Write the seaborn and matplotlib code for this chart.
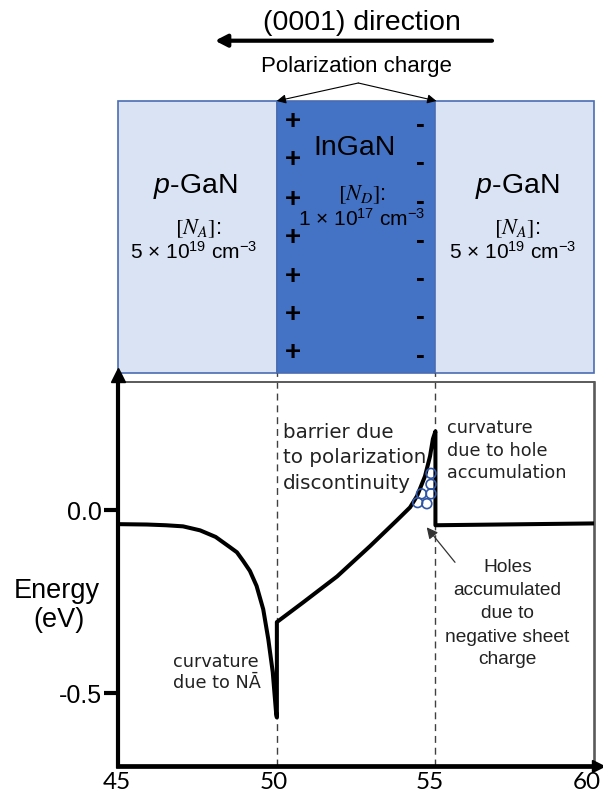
import matplotlib
matplotlib.use("Agg")
import matplotlib.pyplot as plt
import matplotlib.transforms as mtransforms
import pandas as pd
import seaborn as sns
from matplotlib.patches import FancyArrowPatch

# ---- band-edge profile across p-GaN / InGaN / p-GaN -----------------------
position_nm = [45.0, 45.9, 46.5, 47.04, 47.58, 48.07, 48.52, 48.74, 48.94, 49.15, 49.36,
               49.57, 49.73, 49.87, 49.98, 50.0,
               50.0, 50.83, 51.90, 52.94, 53.79, 54.20, 54.42, 54.67, 54.83, 54.92, 55.0,
               55.0, 60.0]
energy_eV = [-0.039, -0.040, -0.042, -0.045, -0.056, -0.074, -0.102, -0.116, -0.140, -0.167,
             -0.208, -0.272, -0.354, -0.444, -0.560, -0.568,
             -0.307, -0.253, -0.182, -0.099, -0.028, 0.007, 0.038, 0.092, 0.147, 0.194, 0.215,
             -0.042, -0.037]

# accumulated holes at the InGaN / p-GaN interface
hole_x = [54.86, 54.86, 54.86, 54.56, 54.44, 54.73]
hole_y = [0.100, 0.070, 0.044, 0.044, 0.020, 0.017]

interfaces_nm = [50, 55]
layer_names = ["p-GaN", "InGaN", "p-GaN"]
layer_left_nm = [45.0, 50.0, 55.0]
layer_width_nm = [5.0, 5.0, 5.0]
x_ticks = [45, 50, 55, 60]
y_ticks = [0.0, -0.5]
y_tick_labels = ["0.0", "-0.5"]

sns.set_theme(style="white")
plt.rcParams["font.family"] = ["Liberation Sans", "DejaVu Sans"]
plt.rcParams["text.color"] = "black"
plt.rcParams["mathtext.fontset"] = "custom"
plt.rcParams["mathtext.rm"] = "Liberation Sans"
plt.rcParams["mathtext.it"] = "Liberation Sans:italic"
plt.rcParams["mathtext.bf"] = "Liberation Sans:bold"

W, H = 603, 804
fig = plt.figure(figsize=(W / 100, H / 100), dpi=100, facecolor="white")


def fpos(x, y):
    return x / W, 1 - y / H


def put(x, y, s, **kw):
    fx, fy = fpos(x, y)
    return fig.text(fx, fy, s, **kw)


left, right, top, bottom = 118.3, 594.0, 383.0, 766.7
ax = fig.add_axes([left / W, 1 - bottom / H, (right - left) / W, (bottom - top) / H])
ax.set_facecolor("white")

band = pd.DataFrame({"x": position_nm, "E": energy_eV})
sns.lineplot(data=band, x="x", y="E", sort=False, estimator=None, color="black",
             linewidth=2.9, ax=ax, zorder=4)

holes = pd.DataFrame({"x": hole_x, "E": hole_y})
sns.scatterplot(data=holes, x="x", y="E", s=50, facecolors="none", edgecolor="#2f55a4",
                linewidth=1.2, ax=ax, zorder=5)

# interface markers
for xb in interfaces_nm:
    ax.plot([xb, xb], [-0.70, 0.374], color="#404040", lw=1.0, ls=(0, (5, 3.5)),
            clip_on=False, zorder=2)

# layer stack drawn above the energy axes on the same position scale
box_bottom, box_height = 0.374, 0.745
bars = ax.bar(layer_left_nm, box_height, width=layer_width_nm, bottom=box_bottom, align="edge",
              color=["#dae3f3", "#4472c4", "#dae3f3"], edgecolor="#4a6db3", linewidth=1.2,
              zorder=1)
for p in bars.patches:
    p.set_clip_on(False)
ax.set_xlim(45, 60)
ax.set_ylim(-0.70, 0.35)

# spines
for side in ["left", "bottom"]:
    ax.spines[side].set_color("black")
ax.spines["left"].set_linewidth(3.0)
ax.spines["bottom"].set_linewidth(3.4)
ax.spines["top"].set_color("#5a5a5a")
ax.spines["top"].set_linewidth(1.4)
ax.spines["right"].set_color("#5a5a5a")
ax.spines["right"].set_linewidth(1.9)
ax.plot([0], [1.017], marker="^", ms=9.5, color="black", transform=ax.transAxes,
        clip_on=False, zorder=6)
ax.plot([1.0075], [0], marker=">", ms=9, color="black", transform=ax.transAxes,
        clip_on=False, zorder=6)

ax.set_xticks(x_ticks)
ax.set_xticklabels([str(t) for t in x_ticks])
ax.set_yticks(y_ticks)
ax.set_yticklabels(y_tick_labels)
ax.tick_params(axis="x", length=0, pad=4, labelsize=17.5, colors="black")
ax.tick_params(axis="y", left=True, length=10, width=3, pad=2, labelsize=18, colors="black",
               direction="out")
shifts_px = [-1.5, -3, -5.5, -7]
for lbl, dx in zip(ax.get_xticklabels(), shifts_px):
    lbl.set_fontfamily("Lato")
    lbl.set_transform(lbl.get_transform()
                      + mtransforms.ScaledTranslation(dx / 100, 0, fig.dpi_scale_trans))
ax.set_xlabel("")
ax.set_ylabel("")

# axis title
put(57, 598, "Energy", ha="center", va="baseline", fontsize=19.5)
put(59, 627, "(eV)", ha="center", va="baseline", fontsize=19.5)

# growth direction and polarization charge labels
put(361.5, 29.5, "(0001) direction", ha="center", va="baseline", fontsize=20.5)
fig.add_artist(FancyArrowPatch(fpos(492, 41.7), fpos(215, 41.7), transform=fig.transFigure,
                               arrowstyle="-|>,head_length=0.35,head_width=0.18",
                               mutation_scale=20, lw=3, color="black", shrinkA=0, shrinkB=0))
put(356, 71.7, "Polarization charge", ha="center", va="baseline", fontsize=16)
for xe in [276.7, 436.5]:
    fig.add_artist(FancyArrowPatch(fpos(358.3, 84), fpos(xe, 102), transform=fig.transFigure,
                                   arrowstyle="-|>,head_length=0.6,head_width=0.3",
                                   mutation_scale=9, lw=0.8, color="black",
                                   shrinkA=0, shrinkB=0, zorder=10))

# layer labels
put(195, 193.3, "$p$-GaN", ha="center", va="baseline", fontsize=20.5)
put(198, 234.3, "$[N_A]$:", ha="center", va="baseline", fontsize=16, math_fontfamily="stix")
put(194, 259.3, "5 × 10$^{19}$ cm$^{-3}$", ha="center", va="baseline", fontsize=15)

put(355, 155, "InGaN", ha="center", va="baseline", fontsize=20.5)
put(362, 200, "$[N_D]$:", ha="center", va="baseline", fontsize=16, math_fontfamily="stix")
put(361.5, 226, "1 × 10$^{17}$ cm$^{-3}$", ha="center", va="baseline", fontsize=15)

put(516.7, 193.3, "$p$-GaN", ha="center", va="baseline", fontsize=20.5)
put(516.7, 234.3, "$[N_A]$:", ha="center", va="baseline", fontsize=16, math_fontfamily="stix")
put(512.5, 259.3, "5 × 10$^{19}$ cm$^{-3}$", ha="center", va="baseline", fontsize=15)

# sheet charges at the two interfaces
for yc in [121.7, 160, 200, 238, 276.7, 315, 353]:
    put(292.7, yc, "+", ha="center", va="center", fontsize=20, fontweight="bold")
for yc in [125, 163, 202, 241, 279, 317, 356]:
    put(420, yc, "-", ha="center", va="center", fontsize=19, fontweight="bold")


def lines(x, ys, texts, **kw):
    for y, t in zip(ys, texts):
        put(x, y, t, va="baseline", **kw)


note = dict(family="DejaVu Sans", color="#222222")
lines(282.7, [438.3, 463.5, 489], ["barrier due", "to polarization", "discontinuity"],
      ha="left", fontsize=14.3, **note)
lines(447.3, [433.3, 455.8, 478.3], ["curvature", "due to hole", "accumulation"],
      ha="left", fontsize=12.7, **note)
lines(173.3, [666.7, 688.3], ["curvature", "due to NĀ"], ha="left", fontsize=12.7, **note)
lines(507.3, [572.3, 595.5, 618.5, 641.7, 664.5],
      ["Holes", "accumulated", "due to", "negative sheet", "charge"],
      ha="center", fontsize=13.8, color="#222222")
fig.add_artist(FancyArrowPatch(fpos(455, 563.3), fpos(426.7, 528.3), transform=fig.transFigure,
                               arrowstyle="-|>,head_length=0.6,head_width=0.3",
                               mutation_scale=11, lw=0.9, color="#333333",
                               shrinkA=0, shrinkB=0))

fig.savefig("out.png", dpi=100, facecolor="white")
